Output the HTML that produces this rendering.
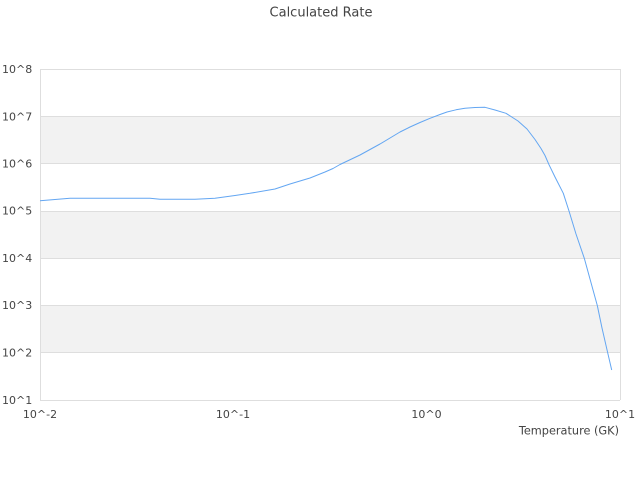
<!DOCTYPE html>
<html><head><meta charset="utf-8"><style>
html,body{margin:0;padding:0;background:#fff;}
svg{display:block;}
text{font-family:"DejaVu Sans","Liberation Sans",sans-serif;fill:#444;}
</style></head><body>
<svg width="640" height="480" viewBox="0 0 640 480" xmlns="http://www.w3.org/2000/svg">
<rect x="0" y="0" width="640" height="480" fill="#fff"/>
<text x="321" y="16.5" font-size="13" text-anchor="middle">Calculated Rate</text>
<!-- bands -->
<rect x="40" y="116.5" width="580" height="47.3" fill="#f2f2f2"/>
<rect x="40" y="211" width="580" height="47.3" fill="#f2f2f2"/>
<rect x="40" y="305.5" width="580" height="47.3" fill="#f2f2f2"/>
<!-- grid lines -->
<g stroke="#dedede" stroke-width="1" shape-rendering="crispEdges">
<line x1="40" y1="69.5" x2="620" y2="69.5"/>
<line x1="40" y1="116.5" x2="620" y2="116.5"/>
<line x1="40" y1="163.5" x2="620" y2="163.5"/>
<line x1="40" y1="211.5" x2="620" y2="211.5"/>
<line x1="40" y1="258.5" x2="620" y2="258.5"/>
<line x1="40" y1="305.5" x2="620" y2="305.5"/>
<line x1="40" y1="352.5" x2="620" y2="352.5"/>
<line x1="40" y1="400.5" x2="620" y2="400.5"/>
<line x1="40.5" y1="69" x2="40.5" y2="400"/>
<line x1="620.5" y1="69" x2="620.5" y2="400"/>
</g>
<!-- y labels -->
<g font-size="11">
<text x="2" y="73">10^8</text>
<text x="2" y="120.5">10^7</text>
<text x="2" y="167.5">10^6</text>
<text x="2" y="214.5">10^5</text>
<text x="2" y="262">10^4</text>
<text x="2" y="309">10^3</text>
<text x="2" y="356.5">10^2</text>
<text x="2" y="404">10^1</text>
</g>
<!-- x labels -->
<g font-size="11" text-anchor="middle">
<text x="40" y="418">10^-2</text>
<text x="233" y="418">10^-1</text>
<text x="426.5" y="418">10^0</text>
<text x="620" y="418">10^1</text>
</g>
<text x="619" y="434.5" font-size="11.3" text-anchor="end">Temperature (GK)</text>
<!-- series -->
<polyline fill="none" stroke="#63a6f2" stroke-width="1" stroke-linejoin="round"
points="40,200.7 70,198.3 150,198.3 160,199.3 195,199.3 215,198.3 235,195.5 250,193.3 275,189 290,184 310,178 325,172 333,168.5 340,164.5 360,155 380,144 400,132 410,127 420,122.5 430,118.3 440,114.5 447,112 456,109.8 465,108.3 475,107.5 485,107.3 495,110 506,113.3 518,121 527,129 535,139.5 541,148.5 545,155.5 549,164.7 555,177 563.3,193.3 569,211 576,234 584.3,258.3 590,279 597.3,305.5 602,328 607.7,352.8 611.7,370"/>
</svg>
</body></html>
